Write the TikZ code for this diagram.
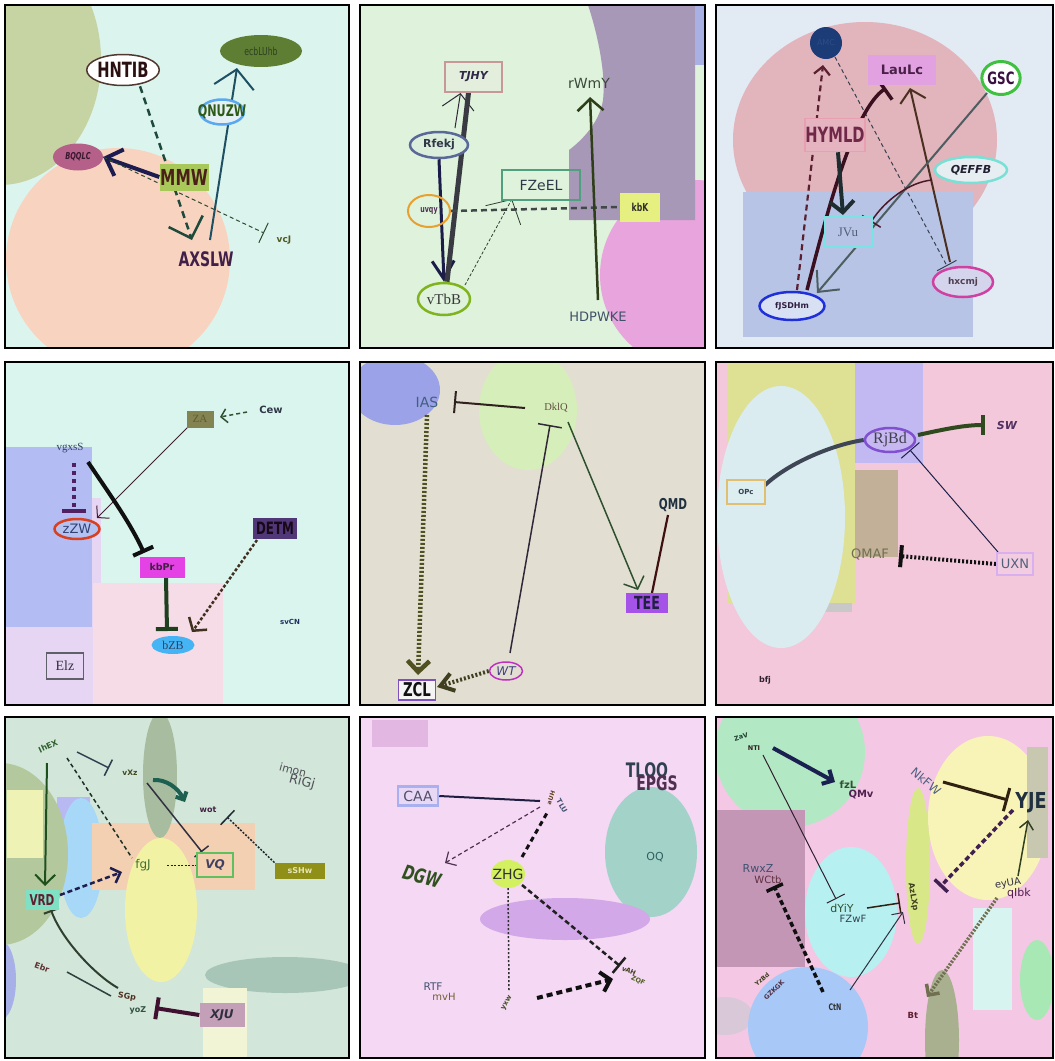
\documentclass[tikz,border=0pt]{standalone}
\usepackage{fontspec}
\setmainfont{Liberation Serif}
\setsansfont{DejaVu Sans}
\usetikzlibrary{shapes.geometric,arrows.meta}
\newcommand\fs[1]{\fontsize{#1}{#1}\selectfont}
\newcommand\nar[1]{\scalebox{0.7}[1]{#1}}
\newcommand\dc[1]{\definecolor{h#1}{HTML}{#1}}
\pgfdeclarelayer{back}
\pgfdeclarelayer{edges}
\pgfsetlayers{back,edges,main}
\dc{DCF4EE}\dc{F8D4C0}\dc{C6D3A3}\dc{DEF2DC}\dc{E8A4DC}\dc{A898B8}\dc{A8B0E4}\dc{E2EAF4}\dc{E2B4BC}\dc{B8C4E6}
\dc{DAF4EE}\dc{E6D6F4}\dc{B4BCF4}\dc{F6DCE6}\dc{E2DFD2}\dc{9CA2E8}\dc{D6EEBA}\dc{F2C8DA}\dc{DEE094}\dc{C8C8C8}
\dc{C2B8F2}\dc{C2B098}\dc{DAECF0}\dc{D2E6DA}\dc{A8B0E8}\dc{B8B8F2}\dc{A8D8F8}\dc{B4C89E}\dc{EEF2B4}\dc{F4D0B2}
\dc{A8BCA0}\dc{F2F2A4}\dc{A8C6B8}\dc{F2F4D6}\dc{F4D8F4}\dc{E2B8E2}\dc{A2D2C8}\dc{D2A8E8}\dc{F4C8E4}\dc{B2E8C4}
\dc{C496B6}\dc{B6F0F0}\dc{D8C8D8}\dc{A8C8F8}\dc{F8F4B8}\dc{C8C8B0}\dc{D8E888}\dc{D8F4F0}\dc{A8E8B4}\dc{A8B090}
\dc{503830}\dc{2A1010}\dc{5E7E34}\dc{2E4020}\dc{5AA8F0}\dc{E4F0F4}\dc{2E5A18}\dc{B46088}\dc{3A1830}\dc{A8C85A}
\dc{4A2018}\dc{402048}\dc{505A20}\dc{C89898}\dc{E4EEDC}\dc{302848}\dc{5A6898}\dc{DCEEDC}\dc{303848}\dc{E8A030}
\dc{503050}\dc{80B41E}\dc{383838}\dc{50A080}\dc{E6F080}\dc{303028}\dc{3A4A38}\dc{405068}\dc{1C3C78}\dc{2C4C88}
\dc{E2A2E2}\dc{4A2048}\dc{40C040}\dc{3A1040}\dc{E8A0B0}\dc{E6B4C0}\dc{702848}\dc{78E0D4}\dc{E6EEF2}\dc{202030}
\dc{78E4E4}\dc{506078}\dc{D040A0}\dc{D4D4EC}\dc{504050}\dc{2030D8}\dc{D8E0F4}\dc{302040}\dc{848452}\dc{5C5C34}
\dc{304060}\dc{D84020}\dc{B4C2F2}\dc{304070}\dc{503878}\dc{180818}\dc{E442E4}\dc{402040}\dc{44B4F4}\dc{606068}
\dc{303040}\dc{203060}\dc{406080}\dc{605040}\dc{203040}\dc{A452E8}\dc{202040}\dc{8050C0}\dc{F4F4F4}\dc{101010}
\dc{C030C0}\dc{404080}\dc{8050D0}\dc{C8B8F2}\dc{404050}\dc{503060}\dc{E0C070}\dc{DCEEF0}\dc{304050}\dc{707050}
\dc{D8B0F0}\dc{F2CCE0}\dc{302030}\dc{306030}\dc{404820}\dc{505058}\dc{407030}\dc{60C060}\dc{F2D0B0}\dc{404060}
\dc{909018}\dc{E6E6B0}\dc{80E0C4}\dc{602030}\dc{603030}\dc{503020}\dc{305040}\dc{C4A0B8}\dc{A8B0F0}\dc{E8D8F6}
\dc{505068}\dc{604020}\dc{405070}\dc{305020}\dc{D2F060}\dc{303030}\dc{306060}\dc{706030}\dc{405020}\dc{404020}
\dc{506020}\dc{204030}\dc{302020}\dc{305030}\dc{502050}\dc{506080}\dc{603040}\dc{503040}\dc{1C1C50}\dc{1E4A3C}
\dc{1E5064}\dc{2E4A30}\dc{302838}\dc{1C1C48}\dc{3A3A42}\dc{404848}\dc{304030}\dc{2E3E18}\dc{5A2030}\dc{384050}
\dc{4A3020}\dc{3A1020}\dc{1E2E30}\dc{4E5E60}\dc{4A1828}\dc{402030}\dc{502060}\dc{1E401E}\dc{403020}\dc{505020}
\dc{2E502E}\dc{401010}\dc{3E4656}\dc{2E4A1E}\dc{1E1E48}\dc{1E501E}\dc{203028}\dc{1E6050}\dc{202830}\dc{1E1E50}
\dc{202020}\dc{304040}\dc{401030}\dc{1E1E40}\dc{1A2050}\dc{302010}\dc{402050}\dc{304020}
\tikzset{
  pb/.style={draw=black, line width=1.8pt},
  el/.style={ellipse, inner sep=0pt},
  bx/.style={rectangle, inner sep=0pt},
  tx/.style={inner sep=0.5pt},
  arr/.style 2 args={-{Straight Barb[length=#1,width=#2]}},
  tee/.style={-{Bar[width=#1]}},
}
\begin{document}
\begin{tikzpicture}[x=1pt,y=-1pt]
\useasboundingbox (0,0) rectangle (1055,1061);
\begin{pgfonlayer}{back}
\fill[white] (0,0) rectangle (1055,1061);
% P1
\begin{scope}
\clip (5,5) rectangle (349,348);
\fill[hDCF4EE] (5,5) rectangle (349,348);
\fill[hF8D4C0] (118,260) circle (112);
\fill[hC6D3A3] (0,60) ellipse [x radius=101, y radius=125];
\end{scope}
% P2
\begin{scope}
\clip (360,5) rectangle (705,348);
\fill[hDEF2DC] (360,5) rectangle (705,348);
\fill[hE8A4DC] (695,275) circle (95);
\fill[hA898B8] (588,5) .. controls (598,35) and (606,75) .. (603,100) .. controls (600,120) and (585,138) .. (569,150) -- (569,220) -- (695,220) -- (695,5) -- cycle;
\fill[hA8B0E4] (695,5) rectangle (705,65);
\end{scope}
% P3
\begin{scope}
\clip (716,5) rectangle (1053,348);
\fill[hE2EAF4] (716,5) rectangle (1053,348);
\fill[hE2B4BC] (865,140) ellipse [x radius=132, y radius=118];
\fill[hB8C4E6] (743,192) rectangle (973,337);
\end{scope}
% P4
\begin{scope}
\clip (5,362) rectangle (349,705);
\fill[hDAF4EE] (5,362) rectangle (349,705);
\fill[hE6D6F4] (5,498) rectangle (101,705);
\fill[hB4BCF4] (5,447) rectangle (92,627);
\fill[hF6DCE6] (93,583) rectangle (223,705);
\end{scope}
% P5
\begin{scope}
\clip (360,362) rectangle (705,705);
\fill[hE2DFD2] (360,362) rectangle (705,705);
\fill[h9CA2E8] (395,390) ellipse [x radius=45, y radius=35];
\fill[hD6EEBA] (528,410) ellipse [x radius=49, y radius=60];
\end{scope}
% P6
\begin{scope}
\clip (716,362) rectangle (1053,705);
\fill[hF2C8DA] (716,362) rectangle (1053,705);
\fill[hDEE094] (727,362) rectangle (855,603);
\fill[hC8C8C8] (823,603) rectangle (852,612);
\fill[hC2B8F2] (855,362) rectangle (923,463);
\fill[hC2B098] (855,470) rectangle (898,557);
\fill[hDAECF0] (781,517) ellipse [x radius=64, y radius=131];
\end{scope}
% P7
\begin{scope}
\clip (5,717) rectangle (349,1058);
\fill[hD2E6DA] (5,717) rectangle (349,1058);
\fill[hA8B0E8] (0,980) ellipse [x radius=16, y radius=40];
\fill[hB8B8F2] (57,797) rectangle (90,835);
\fill[hA8D8F8] (81,858) ellipse [x radius=22, y radius=60];
\fill[hB4C89E] (0,854) ellipse [x radius=68, y radius=91];
\fill[hEEF2B4] (7,790) rectangle (43,858);
\fill[hF4D0B2] (92,823) rectangle (255,890);
\fill[hA8BCA0] (160,775) ellipse [x radius=17, y radius=63];
\fill[hF2F2A4] (161,910) ellipse [x radius=36, y radius=72];
\fill[hA8C6B8] (285,975) ellipse [x radius=80, y radius=18];
\fill[hF2F4D6] (203,988) rectangle (247,1058);
\end{scope}
% P8
\begin{scope}
\clip (360,717) rectangle (705,1058);
\fill[hF4D8F4] (360,717) rectangle (705,1058);
\fill[hE2B8E2] (372,720) rectangle (428,747);
\fill[hA2D2C8] (651,852) ellipse [x radius=46, y radius=65];
\fill[hD2A8E8] (565,919) ellipse [x radius=85, y radius=21];
\end{scope}
% P9
\begin{scope}
\clip (716,717) rectangle (1053,1058);
\fill[hF4C8E4] (716,717) rectangle (1053,1058);
\fill[hB2E8C4] (790,752) circle (75);
\fill[hC496B6] (717,810) rectangle (805,967);
\fill[hB6F0F0] (851,912) ellipse [x radius=46, y radius=65];
\fill[hD8C8D8] (725,1016) ellipse [x radius=28, y radius=19];
\fill[hA8C8F8] (808,1027) circle (60);
\fill[hF8F4B8] (988,818) ellipse [x radius=60, y radius=82];
\fill[hC8C8B0] (1027,747) rectangle (1048,858);
\fill[hD8E888] (918,866) ellipse [x radius=12, y radius=78];
\fill[hD8F4F0] (973,908) rectangle (1012,1010);
\fill[hA8E8B4] (1037,980) ellipse [x radius=17, y radius=40];
\fill[hA8B090] (942,1040) ellipse [x radius=17, y radius=70];
\end{scope}
\end{pgfonlayer}

% ---------- nodes P1
\node[el, minimum width=70, minimum height=31, draw=h503830, line width=1.5, fill=white, text=h2A1010, font=\sffamily\bfseries\fs{21}] (hntib) at (123,70) {\nar{HNTIB}};
\node[el, minimum width=82, minimum height=32, fill=h5E7E34, text=h2E4020, font=\sffamily\fs{11}] (ecb) at (261,51) {\nar{ecbLUhb}};
\node[el, minimum width=44, minimum height=25, draw=h5AA8F0, line width=2.5, fill=hE4F0F4, label={[text=h2E5A18, font=\sffamily\bfseries\fs{16}]center:{\nar{QNUZW}}}] (qnuzw) at (222,112) {};
\node[el, minimum width=50, minimum height=27, fill=hB46088, text=h3A1830, font=\sffamily\bfseries\itshape\fs{9.5}] (bqqlc) at (78,157) {\nar{BQQLC}};
\node[bx, minimum width=49, minimum height=27, fill=hA8C85A, text=h4A2018, font=\sffamily\bfseries\fs{22}] (mmw) at (184,177) {\nar{MMW}};
\node[tx, text=h402048, font=\sffamily\bfseries\fs{20}] (axslw) at (206,259) {\nar{AXSLW}};
\node[tx, text=h505A20, font=\sffamily\bfseries\fs{9}] (vcj) at (284,240) {vcJ};
% P2
\node[bx, minimum width=57, minimum height=30, draw=hC89898, line width=1.5, fill=hE4EEDC, text=h302848, font=\sffamily\bfseries\itshape\fs{11}] (tjhy) at (473.5,77) {TJHY};
\node[el, minimum width=58, minimum height=26, draw=h5A6898, line width=2.5, fill=hDCEEDC, text=h303848, font=\sffamily\bfseries\fs{11}] (rfekj) at (439,145) {Rfekj};
\node[el, minimum width=42, minimum height=32, draw=hE8A030, line width=2, text=h503050, font=\sffamily\bfseries\fs{9}] (uvqy) at (429,211) {\nar{uvqy}};
\node[el, minimum width=52, minimum height=32, draw=h80B41E, line width=2.5, text=h383838, font=\rmfamily\fs{15}] (vtbb) at (444,299) {vTbB};
\node[bx, minimum width=78, minimum height=30, draw=h50A080, line width=2, text=h303848, font=\sffamily\fs{14}] (fzeel) at (541,185) {FZeEL};
\node[bx, minimum width=40, minimum height=29, fill=hE6F080, text=h303028, font=\sffamily\bfseries\fs{11}] (kbk) at (640,207) {\nar{kbK}};
\node[tx, text=h3A4A38, font=\sffamily\fs{14}] (rwmy) at (589,83) {rWmY};
\node[tx, text=h405068, font=\sffamily\fs{13}] (hdpwke) at (598,317) {HDPWKE};
% P3
\node[circle, minimum size=32, inner sep=0pt, fill=h1C3C78, text=h2C4C88, font=\sffamily\fs{8}] (amc) at (826,43) {AMC};
\node[bx, minimum width=68, minimum height=30, fill=hE2A2E2, text=h4A2048, font=\sffamily\bfseries\fs{13}] (laulc) at (902,70) {LauLc};
\node[el, minimum width=38, minimum height=33, draw=h40C040, line width=3, fill=white, text=h3A1040, font=\sffamily\bfseries\fs{17}] (gsc) at (1001,78) {\nar{GSC}};
\node[bx, minimum width=60, minimum height=33, draw=hE8A0B0, line width=1.5, fill=hE6B4C0, text=h702848, font=\sffamily\bfseries\fs{21}] (hymld) at (835,135) {\nar{HYMLD}};
\node[el, minimum width=72, minimum height=26, draw=h78E0D4, line width=2.5, fill=hE6EEF2, text=h202030, font=\sffamily\bfseries\itshape\fs{11}] (qeffb) at (971,170) {QEFFB};
\node[bx, minimum width=47, minimum height=30, draw=h78E4E4, line width=2, fill=hB8C4E6, text=h506078, font=\rmfamily\fs{13}] (jvu) at (848,232) {JVu};
\node[el, minimum width=60, minimum height=30, draw=hD040A0, line width=2.5, fill=hD4D4EC, text=h504050, font=\sffamily\bfseries\fs{9}] (hxcmj) at (963,282) {hxcmj};
\node[el, minimum width=65, minimum height=28, draw=h2030D8, line width=2.5, fill=hD8E0F4, text=h302040, font=\sffamily\bfseries\fs{8}] (fjsdhm) at (792,306) {fJSDHm};
% P4
\node[bx, minimum width=27, minimum height=17, fill=h848452, text=h5C5C34, font=\rmfamily\fs{11}] (za) at (200,419) {ZA};
\node[tx, text=h303848, font=\sffamily\bfseries\fs{10}] (cew) at (271,410) {Cew};
\node[tx, text=h304060, font=\rmfamily\fs{11}] (vgxss) at (70,448) {vgxsS};
\node[el, minimum width=45, minimum height=20, draw=hD84020, line width=2.5, fill=hB4C2F2, text=h304070, font=\sffamily\fs{13}] (zzw) at (77,529) {zZW};
\node[bx, minimum width=44, minimum height=21, fill=h503878, text=h180818, font=\sffamily\bfseries\fs{17}] (detm) at (275,528) {\nar{DETM}};
\node[bx, minimum width=45, minimum height=21, fill=hE442E4, text=h402040, font=\sffamily\bfseries\fs{9.5}] (kbpr) at (162,567) {kbPr};
\node[el, minimum width=43, minimum height=18, fill=h44B4F4, text=h304060, font=\rmfamily\fs{12}] (bzb) at (173,645) {bZB};
\node[bx, minimum width=37, minimum height=26, draw=h606068, line width=1.5, text=h303040, font=\rmfamily\fs{14}] (elz) at (65,666) {Elz};
\node[tx, text=h203060, font=\sffamily\bfseries\fs{7}] (svcn) at (290,622) {svCN};
% P5
\node[tx, text=h406080, font=\sffamily\fs{14}] (ias) at (427,402) {IAS};
\node[tx, text=h605040, font=\rmfamily\fs{10.5}] (dklq) at (556,408) {DklQ};
\node[tx, text=h203040, font=\sffamily\bfseries\fs{15}] (qmd) at (673,505) {\nar{QMD}};
\node[bx, minimum width=42, minimum height=20, fill=hA452E8, text=h202040, font=\sffamily\bfseries\fs{18}] (tee) at (647,603) {\nar{TEE}};
\node[bx, minimum width=37, minimum height=20, draw=h8050C0, line width=1.5, fill=hF4F4F4, text=h101010, font=\sffamily\bfseries\fs{19}] (zcl) at (417,690) {\nar{ZCL}};
\node[el, minimum width=33, minimum height=18, draw=hC030C0, line width=1.5, text=h404080, font=\sffamily\itshape\fs{12}] (wt) at (506,671) {WT};
% P6
\node[el, minimum width=50, minimum height=24, draw=h8050D0, line width=2.5, fill=hC8B8F2, label={[text=h404050, font=\rmfamily\fs{16}]center:{RjBd}}] (rjbd) at (890,440) {};
\node[tx, text=h503060, font=\sffamily\bfseries\itshape\fs{11}] (sw) at (1007,425) {SW};
\node[bx, minimum width=38, minimum height=24, draw=hE0C070, line width=2.5, fill=hDCEEF0, text=h304050, font=\sffamily\bfseries\fs{7}] (opc) at (746,492) {OPc};
\node[tx, text=h707050, font=\sffamily\fs{13}] (qmaf) at (870,555) {QMAF};
\node[bx, minimum width=36, minimum height=22, draw=hD8B0F0, line width=2, fill=hF2CCE0, text=h506078, font=\sffamily\fs{13}] (uxn) at (1015,564) {UXN};
\node[tx, text=h302030, font=\sffamily\bfseries\fs{8}] (bfj) at (765,680) {bfj};
% P7
\node[tx, rotate=25, text=h306030, font=\sffamily\bfseries\fs{8}] (ihex) at (48,746) {IhEX};
\node[tx, text=h404820, font=\sffamily\bfseries\fs{7.5}] (vxz) at (130,773) {vXz};
\node[tx, rotate=-15, text=h505058, font=\sffamily\fs{11}] (imon) at (293,770) {imon};
\node[tx, rotate=-15, text=h505058, font=\sffamily\fs{13}] (rigj) at (302,782) {RiGj};
\node[tx, text=h402040, font=\sffamily\bfseries\fs{8}] (wot) at (208,810) {wot};
\node[tx, text=h407030, font=\sffamily\fs{12}] (fgj) at (143,865) {fgJ};
\node[bx, minimum width=36, minimum height=24, draw=h60C060, line width=2.5, fill=hF2D0B0, text=h404060, font=\sffamily\bfseries\itshape\fs{12}] (vq) at (215,865) {VQ};
\node[bx, minimum width=50, minimum height=16, fill=h909018, text=hE6E6B0, font=\sffamily\bfseries\fs{8}] (sshw) at (300,871) {sSHw};
\node[bx, minimum width=33, minimum height=20, fill=h80E0C4, text=h602030, font=\sffamily\bfseries\fs{15}] (vrd) at (42,900) {\nar{VRD}};
\node[tx, rotate=-20, text=h603030, font=\sffamily\bfseries\fs{8}] (ebr) at (42,967) {Ebr};
\node[tx, rotate=-10, text=h503020, font=\sffamily\bfseries\fs{8}] (sgp) at (127,997) {SGp};
\node[tx, text=h305040, font=\sffamily\bfseries\fs{8}] (yoz) at (138,1010) {yoZ};
\node[bx, minimum width=45, minimum height=24, fill=hC4A0B8, text=h303040, font=\sffamily\bfseries\itshape\fs{12}] (xju) at (222,1015) {XJU};
% P8
\node[bx, minimum width=40, minimum height=19, draw=hA8B0F0, line width=2.5, fill=hE8D8F6, text=h505068, font=\sffamily\fs{14}] (caa) at (418,796) {CAA};
\node[tx, rotate=70, text=h604020, font=\sffamily\bfseries\fs{6}] (auh) at (551,798) {aUH};
\node[tx, rotate=-60, text=h405070, font=\sffamily\bfseries\fs{7}] (tlu) at (562,806) {TLU};
\node[tx, rotate=-15, text=h305020, font=\sffamily\bfseries\itshape\fs{20}] (dgw) at (422,876) {\nar{DGW}};
\node[el, minimum width=34, minimum height=28, fill=hD2F060, label={[text=h303030, font=\sffamily\fs{14}]center:{ZHG}}] (zhg) at (508,874) {};
\node[tx, text=h306060, font=\sffamily\fs{11}] (oq) at (655,857) {OQ};
\node[tx, text=h304050, font=\sffamily\bfseries\fs{20}] (tlqq) at (647,772) {\nar{TLQQ}};
\node[tx, text=h503050, font=\sffamily\bfseries\fs{20}] (epgs) at (657,783) {\nar{EPGS}};
\node[tx, text=h405070, font=\sffamily\fs{10.5}] (rtf) at (433,987) {RTF};
\node[tx, text=h706030, font=\sffamily\fs{10}] (mvh) at (444,997) {mvH};
\node[tx, rotate=60, text=h405020, font=\sffamily\bfseries\fs{7}] (yxw) at (507,1003) {yxw};
\node[tx, rotate=-25, text=h404020, font=\sffamily\bfseries\fs{6.5}] (vah) at (629,971) {vAH};
\node[tx, rotate=-25, text=h506020, font=\sffamily\bfseries\fs{6.5}] (zqf) at (638,981) {ZQF};
% P9
\node[tx, rotate=15, text=h204030, font=\sffamily\bfseries\fs{6.5}] (zav) at (741,737) {ZaV};
\node[tx, text=h302020, font=\sffamily\bfseries\fs{6.5}] (nti) at (754,748) {NTI};
\node[tx, text=h305030, font=\sffamily\bfseries\fs{10}] (fzl) at (848,785) {fzL};
\node[tx, text=h502050, font=\sffamily\bfseries\fs{10}] (qmv) at (861,795) {QMv};
\node[tx, rotate=-40, text=h506080, font=\sffamily\fs{12}] (nkfw) at (926,781) {NkFW};
\node[tx, text=h203040, font=\sffamily\bfseries\fs{22}] (yje) at (1031,803) {\scalebox{0.8}[1]{YJE}};
\node[tx, text=h405070, font=\sffamily\fs{11}] (rwxz) at (758,868) {RwxZ};
\node[tx, text=h603040, font=\sffamily\fs{10}] (wctb) at (768,880) {WCtb};
\node[tx, text=h305030, font=\sffamily\fs{11}] (dyiy) at (842,908) {dYiY};
\node[tx, text=h304050, font=\sffamily\fs{10}] (fzwf) at (853,919) {FZwF};
\node[tx, rotate=-80, text=h404020, font=\sffamily\bfseries\fs{8}] (azlxp) at (913,897) {AzLXp};
\node[tx, rotate=10, text=h303040, font=\sffamily\fs{10}] (eyua) at (1008,884) {eyUA};
\node[tx, text=h502050, font=\sffamily\fs{11}] (qibk) at (1019,893) {qIbk};
\node[tx, rotate=40, text=h404020, font=\sffamily\bfseries\fs{6}] (yzbd) at (762,979) {YzBd};
\node[tx, rotate=45, text=h503040, font=\sffamily\bfseries\fs{6.5}] (gzkgk) at (774,990) {GZKGK};
\node[tx, text=h303030, font=\sffamily\bfseries\fs{9}] (ctn) at (835,1007) {\nar{CtN}};
\node[tx, text=h602030, font=\sffamily\bfseries\fs{8.5}] (bt) at (913,1015) {Bt};

% ---------- edges
\begin{pgfonlayer}{edges}
% P1
\draw[h1C1C50, line width=4, arr={14}{28}] (mmw.west) -- (bqqlc.east);
\draw[h1E4A3C, line width=2.5, dash pattern=on 7pt off 5pt, arr={18}{36}] ([xshift=17]hntib.south) -- ([xshift=-14,yshift=19]axslw.center);
\draw[h1E5064, line width=2, arr={18}{40}] ([xshift=4,yshift=19]axslw.center) -- ([xshift=-24,yshift=-17]ecb.center);
\draw[h2E4A30, line width=1, dash pattern=on 4pt off 3pt, tee=22] (bqqlc.east) -- ([xshift=-20,yshift=7]vcj.center);
% P2
\draw[h302838, line width=1, arr={15}{32}] ([xshift=16,yshift=17]rfekj.center) -- ([xshift=-13,yshift=-16]tjhy.center);
\draw[h1C1C48, line width=3, arr={18}{22}] (rfekj.south) -- (vtbb.north);
\draw[h3A3A42, line width=5] ([xshift=-5]tjhy.south) -- ([xshift=3]vtbb.north);
\draw[h404848, line width=2.5, dash pattern=on 6pt off 4pt] (uvqy.east) -- (kbk.west);
\draw[h304030, line width=0.8, dash pattern=on 3pt off 2pt, arr={18}{40}] ([xshift=21,yshift=14]vtbb.center) -- ([xshift=-29,yshift=-14]fzeel.center);
\draw[h2E3E18, line width=2.5, arr={12}{26}] ([yshift=17]hdpwke.center) -- ([xshift=1,yshift=-14]rwmy.center);
% P3
\draw[h5A2030, line width=2.2, dash pattern=on 6pt off 4pt, arr={8}{16}] ([xshift=5,yshift=16]fjsdhm.center) -- ([xshift=-3,yshift=-22]amc.center);
\draw[h384050, line width=1, dash pattern=on 4pt off 3pt, tee=22] ([xshift=9,yshift=-14]amc.center) -- ([xshift=-16,yshift=16]hxcmj.center);
\draw[h4A3020, line width=2, arr={12}{26}] ([xshift=-13,yshift=20]hxcmj.center) -- ([xshift=8,yshift=-18]laulc.center);
\draw[h3A1020, line width=3.5, tee=26] ([xshift=15,yshift=16]fjsdhm.center) .. controls (830,200) and (855,110) .. ([xshift=-16,yshift=-18]laulc.center);
\draw[h1E2E30, line width=4, arr={11}{24}] ([xshift=3]hymld.south) -- ([xshift=-5,yshift=17]jvu.center);
\draw[h4E5E60, line width=2, arr={16}{30}] ([xshift=-14,yshift=-15]gsc.center) -- ([xshift=25,yshift=13]fjsdhm.center);
\draw[h4A1828, line width=1.5, tee=22] ([xshift=-39,yshift=-10]qeffb.center) .. controls (910,182) and (885,200) .. ([xshift=23,yshift=10]jvu.center);
% P4
\draw[h305030, line width=1.5, dash pattern=on 4pt off 3pt, arr={6}{14}] ([xshift=-24,yshift=-2]cew.center) -- ([xshift=20,yshift=2]za.center);
\draw[h402030, line width=1, arr={8}{18}] ([xshift=-12,yshift=-8]za.center) -- ([xshift=20,yshift=11]zzw.center);
\draw[h502060, line width=4, dash pattern=on 4pt off 4pt, tee=24] ([xshift=4,yshift=-15]vgxss.center) -- ([xshift=-3,yshift=16]zzw.center);
\draw[h101010, line width=4, tee=22] ([xshift=18,yshift=-14]vgxss.center) .. controls (108,492) and (130,522) .. ([xshift=-18,yshift=14]kbpr.center);
\draw[h1E401E, line width=4, tee=22] ([xshift=4]kbpr.south) -- ([xshift=-6,yshift=14]bzb.center);
\draw[h403020, line width=2.5, dash pattern=on 3pt off 2pt, arr={9}{22}] ([xshift=-18,yshift=-12]detm.center) -- ([xshift=19,yshift=13]bzb.center);
% P5
\draw[h302020, line width=2, tee=22] ([xshift=-31]dklq.center) -- ([xshift=27]ias.center);
\draw[h505020, line width=4.5, dash pattern=on 2pt off 2pt, arr={11}{22}] ([yshift=-13]ias.center) -- ([xshift=1,yshift=15]zcl.center);
\draw[h404020, line width=4, dash pattern=on 2pt off 2pt, arr={13}{18}] (wt.west) -- ([xshift=20,yshift=3]zcl.center);
\draw[h302838, line width=1.5, tee=24] ([xshift=4,yshift=18]wt.center) -- ([xshift=-6,yshift=-17]dklq.center);
\draw[h2E502E, line width=1.5, arr={10}{22}] ([xshift=12,yshift=-14]dklq.center) -- ([xshift=-9,yshift=13]tee.center);
\draw[h401010, line width=2.2] ([xshift=-5,yshift=-10]qmd.center) -- ([xshift=5,yshift=10]tee.center);
% P6
\draw[h3E4656, line width=4] ([xshift=17,yshift=5]opc.center) .. controls (785,465) and (830,445) .. (rjbd.west);
\draw[h2E4A1E, line width=4, tee=20] ([xshift=28,yshift=5]rjbd.center) .. controls (945,429) and (965,425) .. ([xshift=-22]sw.center);
\draw[h1E1E48, line width=1, tee=24] ([xshift=-17,yshift=12]uxn.center) -- ([xshift=20,yshift=-10]rjbd.center);
\draw[h101010, line width=4, dash pattern=on 2pt off 2pt, tee=22] (uxn.west) -- ([xshift=29,yshift=-1]qmaf.center);
% P7
\draw[h1E501E, line width=2, arr={10}{20}] ([xshift=-1,yshift=-17]ihex.center) -- ([xshift=3,yshift=14]vrd.center);
\draw[h203028, line width=1.5, dash pattern=on 4pt off 3pt] ([xshift=19,yshift=-12]ihex.center) -- ([xshift=-11,yshift=7]fgj.center);
\draw[h304050, line width=1.5, tee=18] ([xshift=29,yshift=-6]ihex.center) -- ([xshift=-21,yshift=5]vxz.center);
\draw[h1E6050, line width=4, arr={6}{12}] ([xshift=23,yshift=-7]vxz.center) .. controls (166,779) and (178,788) .. ([xshift=-23,yshift=8]wot.center);
\draw[h303040, line width=1.5, tee=18] ([xshift=17,yshift=-10]vxz.center) -- ([xshift=-13,yshift=13]vq.center);
\draw[h202830, line width=1.5, dash pattern=on 2pt off 1.5pt, tee=20] ([xshift=-23,yshift=6]sshw.center) -- ([xshift=19,yshift=-7]wot.center);
\draw[h1E1E50, line width=2.5, dash pattern=on 5pt off 3pt, arr={8}{16}] ([xshift=18,yshift=5]vrd.center) -- ([xshift=-21,yshift=-7]fgj.center);
\draw[h202020, line width=1, dash pattern=on 2pt off 1.5pt] ([xshift=24]fgj.center) -- (vq.west);
\draw[h304030, line width=2, tee=16] ([xshift=-9,yshift=9]sgp.center) .. controls (95,975) and (62,940) .. ([xshift=9,yshift=-10]vrd.center);
\draw[h304040, line width=1.5] ([xshift=25,yshift=-5]ebr.center) -- ([xshift=-16,yshift=1]sgp.center);
\draw[h401030, line width=4, tee=22] (xju.west) -- ([xshift=17,yshift=2]yoz.center);
% P8
\draw[h1E1E40, line width=2] (caa.east) -- ([xshift=-11,yshift=-3]auh.center);
\draw[h503050, line width=1.2, dash pattern=on 4pt off 3pt, arr={8}{16}] ([xshift=-11,yshift=-9]auh.center) -- ([xshift=23,yshift=13]dgw.center);
\draw[h101010, line width=3, dash pattern=on 5pt off 4pt] ([xshift=14,yshift=17]zhg.center) -- ([xshift=-4,yshift=-15]auh.center);
\draw[h202020, line width=2.5, dash pattern=on 5pt off 3pt, tee=20] ([xshift=14,yshift=-11]zhg.center) -- ([xshift=-9,yshift=5]vah.center);
\draw[h303030, line width=1.5, dash pattern=on 2pt off 2pt] (zhg.south) -- ([xshift=2,yshift=13]yxw.center);
\draw[h101010, line width=4, dash pattern=on 6pt off 4pt, arr={9}{20}] ([xshift=30,yshift=5]yxw.center) -- ([xshift=-16,yshift=-8]vah.center);
% P9
\draw[h1A2050, line width=4, arr={8}{16}] ([xshift=19]nti.center) -- ([xshift=-13,yshift=3]fzl.center);
\draw[h302030, line width=1, tee=20] ([xshift=9,yshift=-7]nti.center) -- ([xshift=-6,yshift=9]dyiy.center);
\draw[h302010, line width=3, tee=24] ([xshift=17,yshift=-1]nkfw.center) -- ([xshift=-23,yshift=3]yje.center);
\draw[h402050, line width=3.5, dash pattern=on 5pt off 3pt, tee=18] ([xshift=-18,yshift=-7]yje.center) -- ([xshift=27,yshift=10]azlxp.center);
\draw[h304020, line width=1.5, arr={8}{14}] ([xshift=10,yshift=8]eyua.center) -- ([xshift=-3,yshift=-17]yje.center);
\draw[h707050, line width=3.5, dash pattern=on 2pt off 1.5pt, arr={8}{16}] ([xshift=-11,yshift=-14]eyua.center) -- ([xshift=14,yshift=18]bt.center);
\draw[h302010, line width=1.5, tee=20] ([xshift=14,yshift=11]fzwf.center) -- ([xshift=-13,yshift=-6]azlxp.center);
\draw[h303040, line width=1, arr={8}{16}] ([xshift=15,yshift=17]ctn.center) -- ([xshift=-10,yshift=-15]azlxp.center);
\draw[h101010, line width=3.5, dash pattern=on 5pt off 3pt, tee=18] ([xshift=-12,yshift=15]ctn.center) -- ([xshift=6,yshift=-6]wctb.center);
\end{pgfonlayer}

\foreach \a/\b/\c/\d in {5/5/349/348, 360/5/705/348, 716/5/1053/348, 5/362/349/705, 360/362/705/705, 716/362/1053/705, 5/717/349/1058, 360/717/705/1058, 716/717/1053/1058}
  \draw[pb] (\a,\b) rectangle (\c,\d);
\end{tikzpicture}
\end{document}
